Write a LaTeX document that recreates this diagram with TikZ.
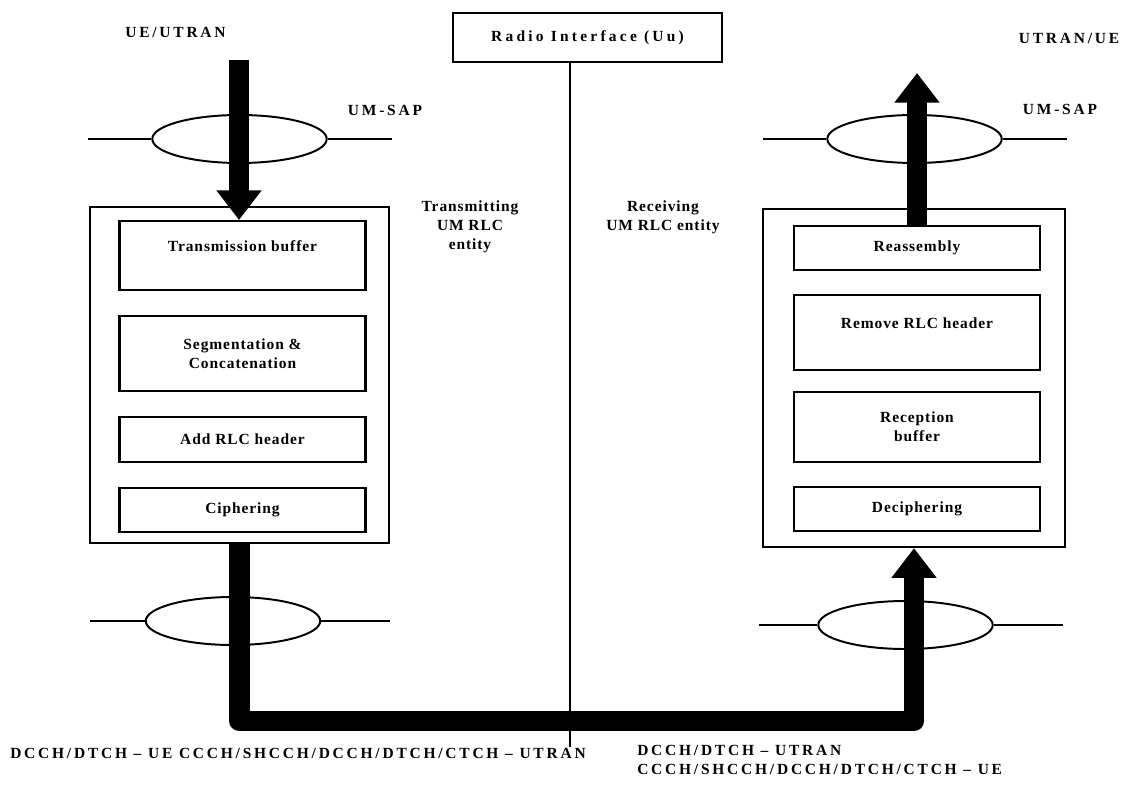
\documentclass[tikz,border=0pt]{standalone}
\usepackage{fontspec}
\setmainfont{Liberation Serif}
\newfontfamily\boxfont[LetterSpace=6]{Liberation Serif}
\newfontfamily\capsfont[LetterSpace=18]{Liberation Serif}
\newfontfamily\widefont[LetterSpace=21]{Liberation Serif}
\usetikzlibrary
  {
    positioning,              % place nodes relative to other nodes
    shapes.geometric,         % ellipse for the SAPs
    arrows.meta,              % big triangle heads
  }

\begin{document}
\begin{tikzpicture}
    [
      x=0.025cm, y=-0.025cm,
      entity/.style=
        {
          rectangle,
          draw,
          line width=1.6pt,
        },
      stage/.style=
        {
          rectangle,
          draw,
          line width=1.5pt,
          minimum width=6.15cm,
          inner sep=2pt,
          align=center,
          font=\boxfont\bfseries\fontsize{11}{13.5}\selectfont,
        },
      sap/.style=
        {
          ellipse,
          draw,
          line width=1.4pt,
          minimum width=4.36cm,
          minimum height=1.2cm,
          inner sep=0pt,
        },
      tag/.style=
        {
          inner sep=0pt,
          font=\capsfont\bfseries\fontsize{11}{14}\selectfont,
        },
      note/.style=
        {
          inner sep=0pt,
          align=center,
          font=\boxfont\bfseries\fontsize{11}{13.5}\selectfont,
        },
      pipe/.style=
        {
          line width=0.52cm,
          line join=round,
          -{Triangle[length=0.74cm, width=1.08cm]},
        },
    ]
    \useasboundingbox (0,0) rectangle (1128,787);

    % radio interface
    \node (radio) [stage, minimum width=6.72cm, minimum height=1.22cm,
      font=\widefont\bfseries\fontsize{11}{13}\selectfont] at (587.5,37.5) {Radio Interface (Uu)};
    \coordinate (uuend) at (570,747);
    \draw [line width=1.5pt] (radio.south -| uuend) -- (uuend);

    % transmitting side
    \node (txent) [entity, minimum width=7.47cm, minimum height=8.4cm] at (239.5,375) {};
    \node (txbuf) [stage, minimum height=1.72cm] at (242.5,255.5) {Transmission buffer\\ ~};
    \node (segm) [stage, minimum height=1.87cm, below=0.6cm of txbuf] {Segmentation \&\\Concatenation};
    \node (addhdr) [stage, minimum height=1.12cm, below=0.6cm of segm] {Add RLC header};
    \node (cipher) [stage, minimum height=1.1cm, below=0.6cm of addhdr] {Ciphering};

    % receiving side
    \node (rxent) [entity, minimum width=7.55cm, minimum height=8.45cm] at (914,378) {};
    \node (reasm) [stage, minimum height=1.1cm] at (917,248) {Reassembly};
    \node (rmhdr) [stage, minimum height=1.87cm, below=0.57cm of reasm] {Remove RLC header\\ ~};
    \node (rxbuf) [stage, minimum height=1.75cm, below=0.5cm of rmhdr] {Reception\\buffer};
    \node (decipher) [stage, minimum height=1.1cm, below=0.57cm of rxbuf] {Deciphering};

    % service access points
    \node (saptxup) [sap] at (239.5,139) {};
    \node (saptxdn) [sap] at (233,621) {};
    \node (saprxup) [sap] at (914.5,139) {};
    \node (saprxdn) [sap] at (905.5,625) {};
    \draw [line width=1.4pt] (saptxup.west) -- ++(-63,0) coordinate (saptxupl);
    \draw [line width=1.4pt] (saptxup.east) -- ++(64,0) coordinate (saptxupr);
    \draw [line width=1.4pt] (saptxdn.west) -- ++(-55,0) coordinate (saptxdnl);
    \draw [line width=1.4pt] (saptxdn.east) -- ++(69,0) coordinate (saptxdnr);
    \draw [line width=1.4pt] (saprxup.west) -- ++(-63,0) coordinate (saprxupl);
    \draw [line width=1.4pt] (saprxup.east) -- ++(64,0) coordinate (saprxupr);
    \draw [line width=1.4pt] (saprxdn.west) -- ++(-58,0) coordinate (saprxdnl);
    \draw [line width=1.4pt] (saprxdn.east) -- ++(69,0) coordinate (saprxdnr);

    % data flow
    \coordinate (txin) at (239,60);
    \coordinate (rxout) at (917,73);
    \coordinate (chbot) at (0,721);
    \draw [pipe] (txin) -- (txin |- txbuf.north);
    \draw [pipe] (txent.south) -- (txent.south |- chbot) -- (rxent.south |- chbot) -- (rxent.south);
    \draw [pipe] (reasm.north) -- (reasm.north |- rxout);

    % labels
    \node (uetop) [tag] at (175.5,32) {UE/UTRAN};
    \node (utrantop) [tag] at (1069,38) {UTRAN/UE};
    \node (umsaptx) [tag] at (385,110) {UM-SAP};
    \node (umsaprx) [tag] at (1060,109) {UM-SAP};
    \node (txname) [note] at (470,227) {Transmitting\\UM RLC\\entity};
    \node (rxname) [note] at (663,217.5) {Receiving\\UM RLC entity};
    \node (chtx) [tag, anchor=west] at (10,753) {DCCH/DTCH \textendash{} UE CCCH/SHCCH/DCCH/DTCH/CTCH \textendash{} UTRAN};
    \node (chrx) [tag, anchor=west, align=left] at (637,760) {DCCH/DTCH \textendash{} UTRAN\\CCCH/SHCCH/DCCH/DTCH/CTCH \textendash{} UE};
  \end{tikzpicture}
\end{document}
